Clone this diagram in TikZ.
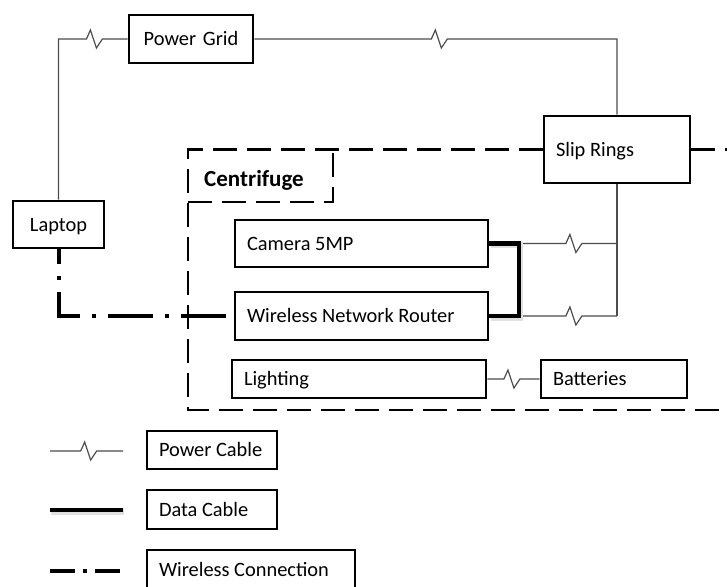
\documentclass[tikz,border=0pt]{standalone}
\usepackage{fontspec}
\setmainfont{Carlito}
\usetikzlibrary{calc}

\begin{document}
\begin{tikzpicture}[x=0.5pt,y=-0.5pt,
    font=\fontsize{10.2}{12}\selectfont,
    box/.style={draw,line width=1.4pt,inner ysep=0pt,inner xsep=6pt,align=flush left,
      text height=6.6pt,text depth=0pt},
    key/.style={box,line width=0.6pt},
    pcable/.style={draw=black!70,line width=0.6pt,line join=miter},
    zig/.style={to path={let \p1=($(\tikztostart)!#1!(\tikztotarget)$) in
      -- ($(\p1)+(-8,0)$) -- ++(4,-9) -- ++(6,18) -- ++(6,-9) -- (\tikztotarget)}},
    datacable/.style={line width=2.1pt,
      preaction={draw=black!12,line width=2.8pt,transform canvas={shift={(0.6pt,-0.9pt)}}}},
    wireless/.style={line width=2pt,dash pattern=on 22.5pt off 6pt on 2pt off 6pt,
      dash phase=15pt},
    boundary/.style={line width=1.4pt,dash pattern=on 12pt off 5pt}]
  \useasboundingbox (0,0) rectangle (727,587);
  \clip (0,0) rectangle (727,587);

  % units
  \node[box,text width=50pt,align=center,minimum height=24pt] (grid) at (191,39) {Power Grid};
  \node[box,text width=33.5pt,align=center,minimum height=23.5pt] (laptop) at (58.5,224.5) {Laptop};
  \node[box,text width=61pt,minimum height=33.5pt] (slip) at (617,149.5) {Slip Rings};
  \node[box,text width=114.5pt,minimum height=23.5pt] (camera) at (361.5,243.5) {Camera 5MP};
  \node[box,text width=114.5pt,minimum height=24pt] (router) at (361.5,316) {Wireless Network Router};
  \node[box,text width=115pt,minimum height=19pt] (lighting) at (359,379) {Lighting};
  \node[box,text width=61pt,minimum height=19pt] (batteries) at (614,379) {Batteries};

  % centrifuge outline
  \node[font=\fontsize{11.5}{13}\selectfont\bfseries] (cflabel) at (254,180) {Centrifuge};
  \draw[boundary] (slip.west) -- (188,149.5) -- (188,410) -- (740,410);
  \draw[boundary] (slip.east) -- (740,149.5);
  \draw[boundary] (188,202) -- (333,202) -- (333,149.5);

  % power
  \coordinate (c1) at (58.5,39);
  \coordinate (c2) at (617,39);
  \coordinate (d1) at (519,243.5);
  \coordinate (d2) at (519,316);
  \coordinate (s1) at (617,243.5);
  \coordinate (s2) at (617,316);
  \draw[pcable] (laptop.north) -- (c1) to[zig=0.52] (grid.west);
  \draw[pcable] (grid.east) to[zig=0.51] (c2) -- (slip.north);
  \draw[pcable] (slip.south) -- (s2);
  \draw[pcable] (d1) to[zig=0.56] (s1);
  \draw[pcable] (d2) to[zig=0.56] (s2);
  \draw[pcable] (lighting.east) to[zig=0.47] (batteries.west);

  % data and wireless
  \draw[datacable] (camera.east) -- (d1) -- (d2) -- (router.east);
  \draw[wireless] (laptop.south) |- (router.west);

  % legend
  \coordinate (pc1) at (50,451);
  \coordinate (pc2) at (123,451);
  \coordinate (dc1) at (50,510);
  \coordinate (dc2) at (123,510);
  \coordinate (wc1) at (50,571);
  \coordinate (wc2) at (120,571);
  \node[key,text width=53pt,minimum height=19pt] (pckey) at (212,450) {Power Cable};
  \node[key,text width=53pt,minimum height=19.5pt] (dckey) at (212,509.5) {Data Cable};
  \node[key,text width=92pt,minimum height=19.5pt] (wckey) at (251,569.5) {Wireless Connection};
  \draw[pcable] (pc1) to[zig=0.53] (pc2);
  \draw[datacable] (dc1) -- (dc2);
  \draw[wireless,dash pattern=on 12.5pt off 4pt on 2pt off 4pt,dash phase=0pt] (wc1) -- (wc2);
\end{tikzpicture}
\end{document}
